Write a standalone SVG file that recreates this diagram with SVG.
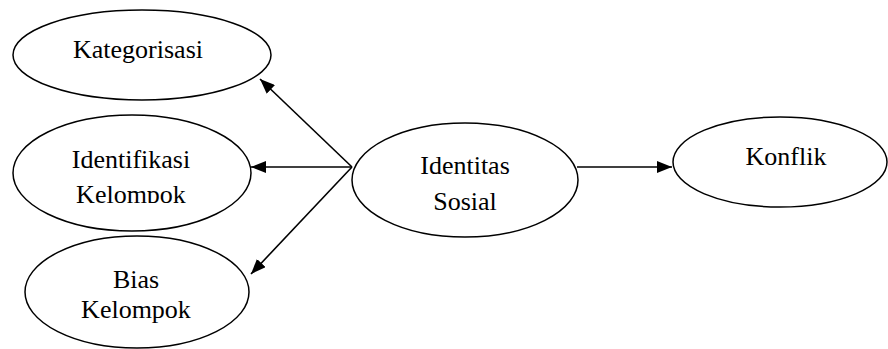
<svg xmlns="http://www.w3.org/2000/svg" width="888" height="349" viewBox="0 0 888 349">
<style>
.node{fill:#fff;stroke:#000;stroke-width:1.5}
.t{font-family:'Liberation Serif','DejaVu Serif',serif;font-size:26px;fill:#000;text-anchor:middle}
.c{stroke:#000;stroke-width:1.6;fill:none;marker-end:url(#ah)}
</style>
<defs>
<marker id="ah" viewBox="0 0 15 12" refX="15" refY="6" markerWidth="15" markerHeight="12" markerUnits="userSpaceOnUse" orient="auto">
<path d="M0,0 L15,6 L0,12 Z" fill="#000"/>
</marker>
<clipPath id="clipId"><rect x="0" y="0" width="300" height="203"/></clipPath>
</defs>
<g id="kategorisasi">
<ellipse class="node" cx="142" cy="55" rx="129" ry="45"/>
<text class="t" x="138" y="58">Kategorisasi</text>
</g>
<g id="identifikasi">
<ellipse class="node" cx="132" cy="173" rx="119" ry="58"/>
<g clip-path="url(#clipId)">
<text class="t" x="131" y="168">Identifikasi</text>
<text class="t" x="131" y="203">Kelompok</text>
</g>
</g>
<g id="bias">
<ellipse class="node" cx="137" cy="292" rx="112" ry="56"/>
<text class="t" x="136" y="288">Bias</text>
<text class="t" x="136" y="318">Kelompok</text>
</g>
<g id="identitas">
<ellipse class="node" cx="465" cy="180" rx="113" ry="57"/>
<text class="t" x="465" y="174">Identitas</text>
<text class="t" x="465" y="210">Sosial</text>
</g>
<g id="konflik">
<ellipse class="node" cx="780" cy="162" rx="107" ry="45"/>
<text class="t" x="786" y="165">Konflik</text>
</g>
<g id="connectors">
<line class="c" x1="352" y1="167" x2="260" y2="79"/>
<line class="c" x1="352" y1="167" x2="251" y2="167"/>
<line class="c" x1="352" y1="167" x2="251" y2="274"/>
<line class="c" x1="577" y1="167" x2="672" y2="167"/>
</g>
</svg>
